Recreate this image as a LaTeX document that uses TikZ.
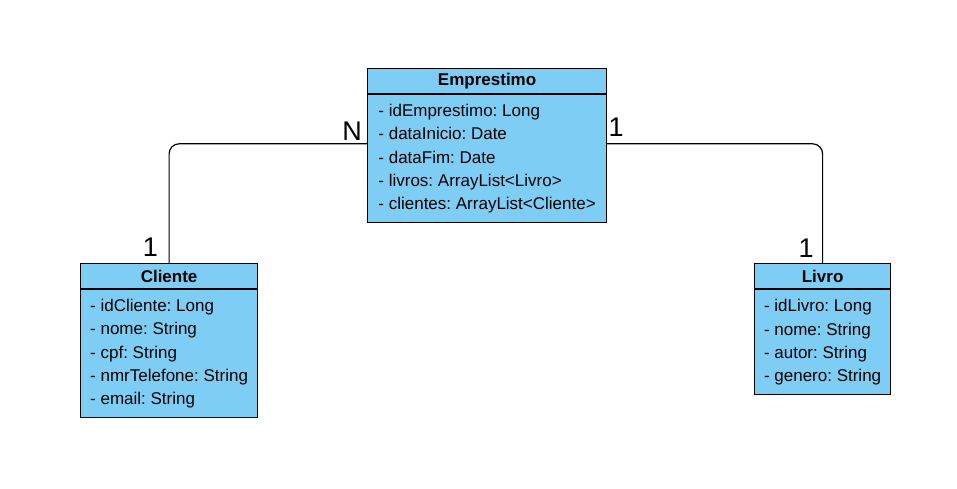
\documentclass[tikz,border=0pt]{standalone}
\usepackage{fontspec}
\setmainfont{Liberation Sans}
\definecolor{classblue}{RGB}{126,205,244}

\begin{document}
\begin{tikzpicture}[x=1pt,y=-1pt,
		classhead/.style={draw, fill=classblue, line width=1.2pt, anchor=north west, minimum height=25pt, inner sep=0pt, font=\fontsize{17}{20}\selectfont\bfseries},
		classbody/.style={draw, fill=classblue, line width=1.2pt, anchor=north west, inner sep=0pt, align=left, font=\fontsize{17}{23.3}\selectfont\frenchspacing},
		assoc/.style={line width=1.2pt, rounded corners=10pt},
		mult/.style={inner sep=0pt, font=\fontsize{27}{30}\selectfont}]
			\useasboundingbox (0,0) rectangle (957,488);
			
			% classes
			\node[classhead, minimum width=239pt] (emprestimoHead) at (367,68) {Emprestimo};
			\node[classbody, minimum width=239pt, minimum height=128pt] (emprestimoBody) at (emprestimoHead.south west) {- idEmprestimo: Long\\- dataInicio: Date\\- dataFim: Date\\- livros: ArrayList<Livro>\\- clientes: ArrayList<Cliente>};
			
			\node[classhead, minimum width=177pt] (clienteHead) at (80,263) {Cliente};
			\node[classbody, minimum width=177pt, minimum height=128pt] (clienteBody) at (clienteHead.south west) {- idCliente: Long\\- nome: String\\- cpf: String\\- nmrTelefone: String\\- email: String};
			
			\node[classhead, minimum width=136pt] (livroHead) at (754,263) {Livro};
			\node[classbody, minimum width=136pt, minimum height=105pt] (livroBody) at (livroHead.south west) {- idLivro: Long\\- nome: String\\- autor: String\\- genero: String};
			
			% associations
			\draw[assoc] ([yshift=15pt]emprestimoBody.west) -| (clienteHead.north);
			\draw[assoc] ([yshift=15pt]emprestimoBody.east) -| (livroHead.north);
			
			% multiplicities
			\node[mult] (multEmpCli) at (352,131) {N};
			\node[mult] (multEmpLiv) at (616,127) {1};
			\node[mult] (multCli) at (150.5,247.5) {1};
			\node[mult] (multLiv) at (806,248) {1};
		\end{tikzpicture}
\end{document}
